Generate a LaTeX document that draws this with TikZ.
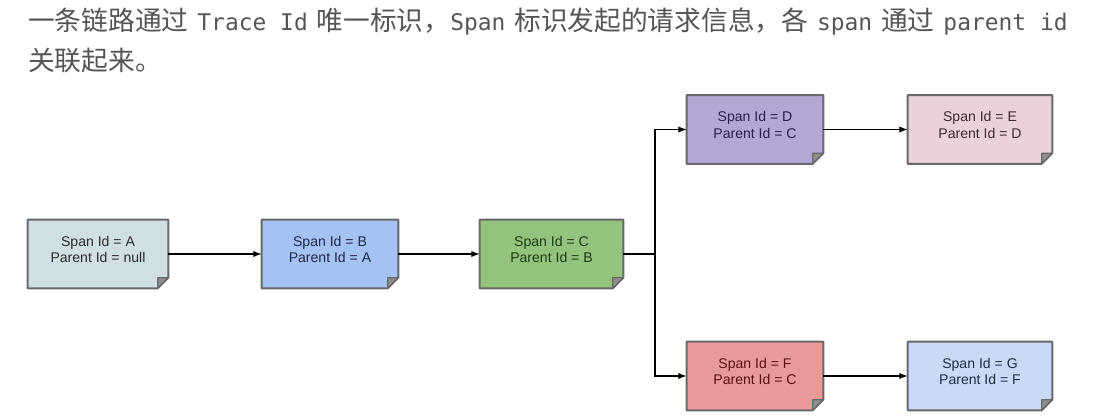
\documentclass[tikz,border=0pt]{standalone}
\usepackage{fontspec}
\setsansfont{Liberation Sans}
\newfontfamily\cjkfont{Noto Sans CJK SC}
\newfontfamily\codefont{DejaVu Sans Mono}
\usetikzlibrary{arrows.meta}
\pgfdeclarelayer{background}
\pgfsetlayers{background,main}
\definecolor{txtgray}{HTML}{555555}
\definecolor{edgegray}{HTML}{686868}
\definecolor{foldgray}{HTML}{8E8E8E}
\definecolor{fillA}{HTML}{D0DFE3}\definecolor{txtA}{HTML}{2B2B2B}
\definecolor{fillB}{HTML}{A4C2F4}\definecolor{txtB}{HTML}{1F2A44}
\definecolor{fillC}{HTML}{93C47D}\definecolor{txtC}{HTML}{1F3B12}
\definecolor{fillD}{HTML}{B4A7D6}\definecolor{txtD}{HTML}{2A1F4D}
\definecolor{fillE}{HTML}{EAD1DC}\definecolor{txtE}{HTML}{3D2A33}
\definecolor{fillF}{HTML}{EA9999}\definecolor{txtF}{HTML}{5A1010}
\definecolor{fillG}{HTML}{C9DAF8}\definecolor{txtG}{HTML}{1F2D45}
\newcommand{\cjksize}{\fontsize{19}{22}\selectfont}
\newcommand{\codesize}{\fontsize{16.3}{22}\selectfont}
\newcommand{\gap}{\hspace{6.3pt}}
\newcommand{\spantext}[2]{\raisebox{2pt}[\height][\depth]{\begin{tabular}{@{}c@{}}Span Id = #1\\Parent Id = #2\end{tabular}}}
\tikzset{
  spanbox/.style={text=#1, minimum height=1.7cm, minimum width=3.45cm, inner sep=0pt,
    font=\sffamily\fontsize{10}{12}\selectfont},
  boxline/.style={draw=edgegray, line width=1.4pt, line join=round},
  fold/.style={fill=foldgray, draw=edgegray, line width=0.9pt, line join=round},
  link/.style={-{Latex[length=6pt,width=4.5pt]}, line width=0.8pt}
}
\begin{document}
\begin{tikzpicture}[x=0.025cm, y=-0.025cm]
  \useasboundingbox (0,0) rectangle (1094,419);
  \node[anchor=base west, inner sep=0, text=txtgray] (line1) at (28,31)
    {\cjkfont\cjksize 一条链路通过\gap{\codefont\codesize Trace Id}\gap 唯一标识，{\codefont\codesize Span}\gap 标识发起的请求信息，各\gap{\codefont\codesize span}\gap 通过\gap{\codefont\codesize parent id}};
  \node[anchor=base west, inner sep=0, text=txtgray] (line2) at (28,71)
    {\cjkfont\cjksize 关联起来。};

  \node[spanbox=txtA, minimum width=3.5cm] (a) at (98,254) {\spantext{A}{null}};
  \node[spanbox=txtB, minimum width=3.4cm] (b) at (330,254) {\spantext{B}{A}};
  \node[spanbox=txtC, minimum width=3.575cm] (c) at (551.5,254) {\spantext{C}{B}};
  \node[spanbox=txtD, minimum width=3.4cm] (d) at (755,129.5) {\spantext{D}{C}};
  \node[spanbox=txtE, minimum width=3.6cm] (e) at (980,129.5) {\spantext{E}{D}};
  \node[spanbox=txtF, minimum width=3.4cm] (f) at (755,376) {\spantext{F}{C}};
  \node[spanbox=txtG, minimum width=3.6cm] (g) at (980,376) {\spantext{G}{F}};

  \begin{pgfonlayer}{background}
    \foreach \n/\col in {a/fillA,b/fillB,c/fillC,d/fillD,e/fillE,f/fillF,g/fillG}
      \filldraw[boxline, fill=\col] (\n.north west) -- (\n.north east)
        -- ([yshift=7.5pt]\n.south east) -- ([xshift=-7.5pt]\n.south east)
        -- (\n.south west) -- cycle;
  \end{pgfonlayer}
  \foreach \n in {a,b,c,d,e,f,g}
    \filldraw[fold] ([xshift=-7.5pt]\n.south east) -- ([yshift=7.5pt]\n.south east)
      -- ([xshift=-7.5pt,yshift=7.5pt]\n.south east) -- cycle;

  \coordinate (fork) at (655,254);
  \draw[link] (a) -- (b);
  \draw[link] (b) -- (c);
  \draw[line width=0.8pt] (c) -- (fork);
  \draw[link] (fork) |- (d);
  \draw[link] (fork) |- (f);
  \draw[link] (d) -- (e);
  \draw[link] (f) -- (g);
\end{tikzpicture}
\end{document}
